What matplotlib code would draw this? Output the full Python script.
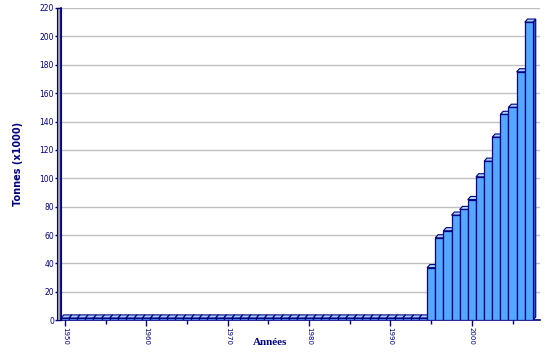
import matplotlib.pyplot as plt
from matplotlib.patches import Polygon, Rectangle
from matplotlib.ticker import MultipleLocator

# Production par année (tonnes x1000)
years = list(range(1950, 2008))
early = [1.5] * 45  # 1950-1994, presque nul
recent = [37, 58, 63, 74, 78, 85, 101, 112, 129, 145, 150, 175, 210]  # 1995-2007
tonnes = early + recent

navy = '#000080'
front = '#55A8FF'
top_c = '#A8D4FF'
side_c = '#2B62C8'

fig = plt.figure(figsize=(5.49, 3.63), dpi=100)
ax = fig.add_axes([0.111, 0.118, 0.873, 0.86])

w = 1.0
dx, dy = 0.35, 2.2  # profondeur 3D
for x, v in zip(years, tonnes):
    x0, x1 = x - w / 2, x + w / 2
    ax.add_patch(Polygon([(x1, 0), (x1 + dx, dy), (x1 + dx, v + dy), (x1, v)],
                         closed=True, facecolor=side_c, edgecolor=navy, lw=0.8, zorder=3))
    ax.add_patch(Polygon([(x0, v), (x0 + dx, v + dy), (x1 + dx, v + dy), (x1, v)],
                         closed=True, facecolor=top_c, edgecolor=navy, lw=0.8, zorder=3))
    ax.bar(x, v, width=w, color=front, edgecolor=navy, linewidth=0.9, zorder=3)

ax.set_xlim(1949.5, 2008.4)
ax.set_ylim(0, 220)

ax.yaxis.set_major_locator(MultipleLocator(20))
ax.yaxis.set_minor_locator(MultipleLocator(10))
ax.xaxis.set_major_locator(MultipleLocator(10))
ax.xaxis.set_minor_locator(MultipleLocator(5))
ax.grid(axis='y', color='#C0C0C0', lw=1, zorder=0)
ax.set_axisbelow(True)

for s in ['top', 'right']:
    ax.spines[s].set_visible(False)
for s in ['left', 'bottom']:
    ax.spines[s].set_color(navy)
    ax.spines[s].set_linewidth(1.2)

ax.tick_params(which='both', colors=navy, labelsize=5.5, direction='out', width=1)
ax.tick_params(axis='x', labelsize=5)
ax.tick_params(which='major', length=4)
ax.tick_params(which='minor', length=3)
ax.tick_params(axis='x', labelrotation=270, pad=1)
ax.tick_params(axis='y', pad=1)
for lab in ax.get_xticklabels():
    lab.set_verticalalignment('top')

# mur gris à gauche
ax.add_patch(Rectangle((-0.009, 0), 0.009, 1, transform=ax.transAxes,
                       facecolor='#A0A0A0', edgecolor=navy, lw=0.8, clip_on=False, zorder=1))

ax.set_ylabel('Tonnes (x1000)', color=navy, fontsize=7, fontweight='bold', va='center')
ax.yaxis.set_label_coords(-0.09, 0.5)
ax.set_xlabel('Années', color=navy, fontsize=8, fontweight='bold',
              family='Liberation Serif', va='center')
ax.xaxis.set_label_coords(0.436, -0.07)

plt.savefig('out.png', dpi=100)
plt.close()
